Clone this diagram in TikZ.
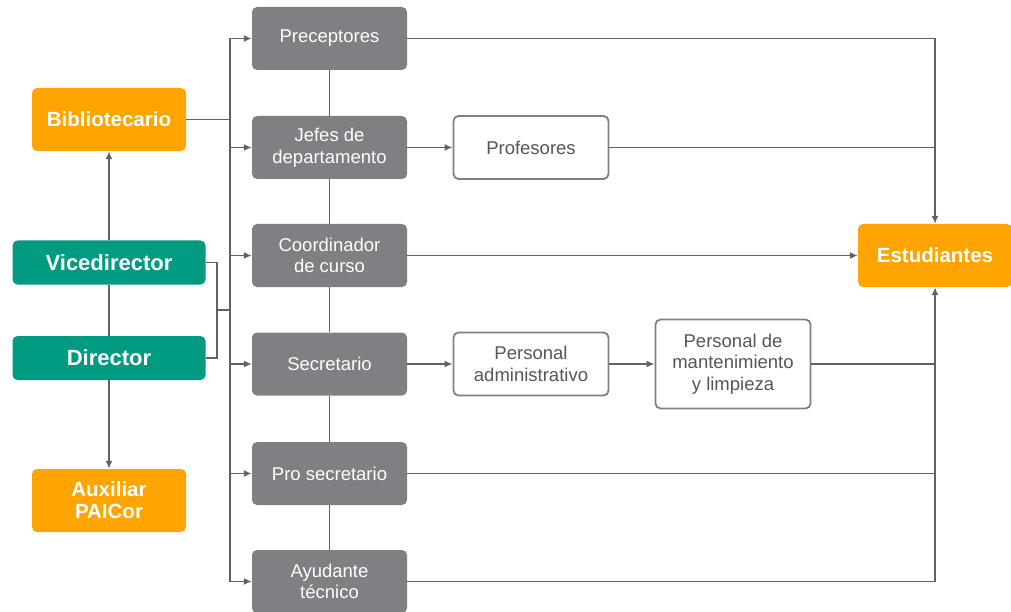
\documentclass[tikz,border=0pt]{standalone}
\usepackage{fontspec}
\setmainfont{Liberation Sans}
\usetikzlibrary{arrows.meta,calc}
\definecolor{cOrange}{HTML}{FFA400}
\definecolor{cTeal}{HTML}{009B80}
\definecolor{cGray}{HTML}{7F8084}
\definecolor{cLine}{HTML}{606266}
\definecolor{cText}{HTML}{555659}
\begin{document}
\begin{tikzpicture}[x=1pt,y=-1pt,
  base/.style={rounded corners=5pt,align=center,inner sep=0pt},
  orangebox/.style={base,fill=cOrange,text=white,font=\fontsize{20.5}{22}\selectfont\bfseries,minimum width=154pt,minimum height=63pt},
  tealbox/.style={base,fill=cTeal,text=white,font=\fontsize{22}{24}\selectfont\bfseries,minimum width=193pt,minimum height=44pt},
  graybox/.style={base,fill=cGray,text=white,font=\fontsize{18.5}{21.5}\selectfont,minimum width=155pt,minimum height=63pt},
  whitebox/.style={base,draw=cGray,line width=1.8pt,fill=white,text=cText,font=\fontsize{18.5}{21.5}\selectfont,minimum width=155pt,minimum height=63pt},
  conn/.style={draw=cLine,line width=1.8pt},
  arr/.style={conn,-{Latex[length=8pt,width=7pt]}}]
\useasboundingbox (0,0) rectangle (1011,612);
% left column
\node[orangebox] (bib) at (109,119.5) {Bibliotecario};
\node[tealbox] (vice) at (109,262.5) {Vicedirector};
\node[tealbox] (dir) at (109,358) {Director};
\node[orangebox] (aux) at (109,500.5) {Auxiliar\\PAICor};
% gray column
\node[graybox] (g1) at (329.5,38.5) {Preceptores};
\node[graybox] (g2) at (329.5,147.5) {Jefes de\\departamento};
\node[graybox] (g3) at (329.5,255.5) {Coordinador\\de curso};
\node[graybox] (g4) at (329.5,364) {Secretario};
\node[graybox] (g5) at (329.5,473.5) {Pro secretario};
\node[graybox] (g6) at (329.5,581.5) {Ayudante\\técnico};
% white boxes
\node[whitebox] (prof) at (531,147.5) {Profesores};
\node[whitebox] (padm) at (531,364) {Personal\\administrativo};
\node[whitebox,minimum height=89pt] (pman) at (733,364) {Personal de\\mantenimiento\\y limpieza};
% students
\node[orangebox,minimum width=154pt] (est) at (935,255.5) {Estudiantes};
% helper coordinates
\coordinate (trunk) at (230,0);
\coordinate (brk) at (217,310);
\coordinate (rx) at (935,0);
% trunk
\draw[conn] (trunk |- g1.west) -- (trunk |- g6.west);
\foreach \g in {g1,g2,g3,g4,g5,g6} \draw[arr] (trunk |- \g.west) -- (\g.west);
\draw[conn] (bib.east) -- (trunk |- bib.east);
\draw[conn] (vice.east) -| (brk) |- (dir.east);
\draw[conn] (brk) -- (trunk |- brk);
\draw[arr] (vice.north) -- (bib.south);
\draw[conn] (vice.south) -- (dir.north);
\draw[arr] (dir.south) -- (aux.north);
% gray spine
\draw[conn] (g1.south) -- (g2.north);
\draw[conn] (g2.south) -- (g3.north);
\draw[conn] (g3.south) -- (g4.north);
\draw[conn] (g4.south) -- (g5.north);
\draw[conn] (g5.south) -- (g6.north);
% right side
\draw[arr] (g1.east) -- (rx |- g1.east) -- (est.north);
\draw[arr] (g2.east) -- (prof.west);
\draw[conn] (prof.east) -- (rx |- prof.east);
\draw[arr] (g3.east) -- (est.west);
\draw[arr] (g4.east) -- (padm.west);
\draw[arr] (padm.east) -- (pman.west);
\draw[conn] (pman.east) -- (rx |- pman.east);
\draw[conn] (g5.east) -- (rx |- g5.east);
\draw[arr] (g6.east) -- (rx |- g6.east) -- (est.south);
\end{tikzpicture}
\end{document}
